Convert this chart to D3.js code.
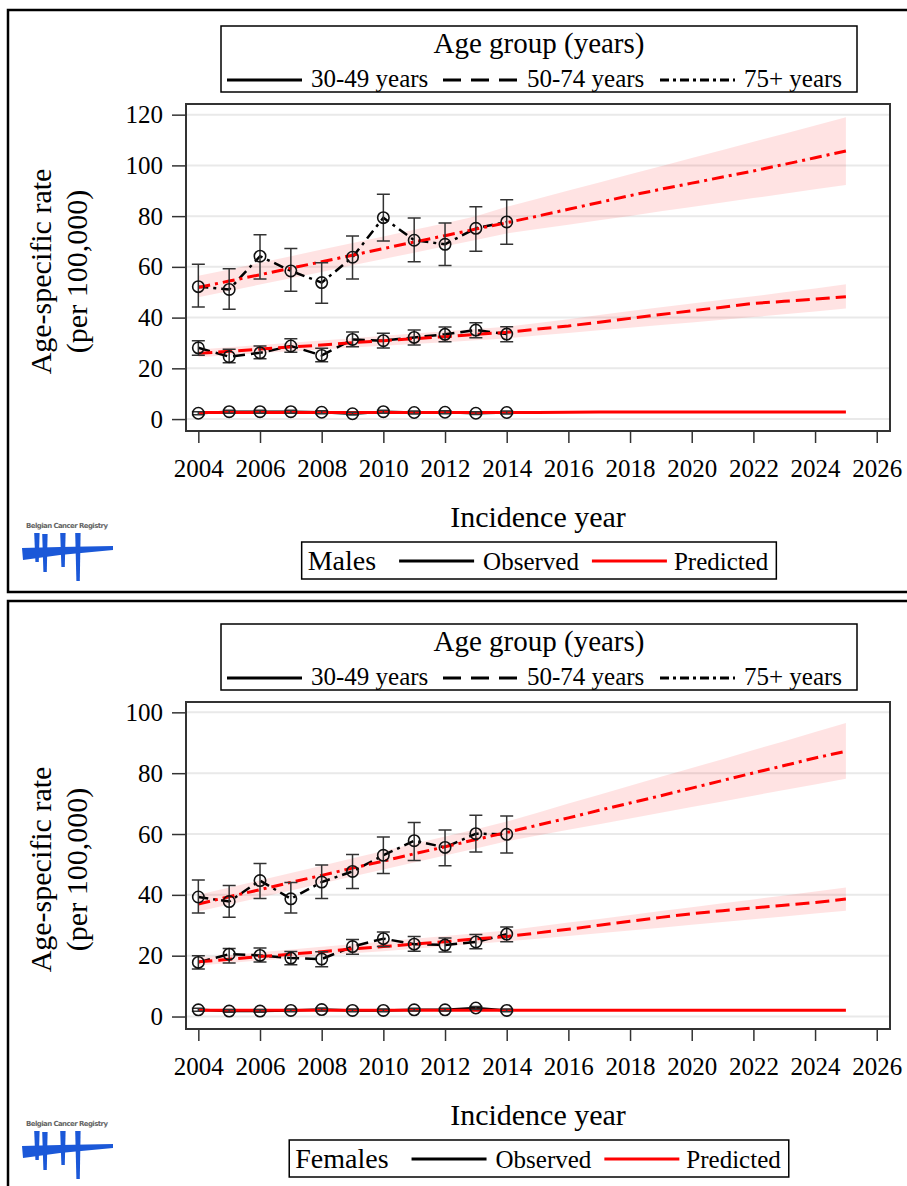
<!DOCTYPE html>
<html>
<head>
<meta charset="utf-8">
<script src="https://cdn.jsdelivr.net/npm/d3@7/dist/d3.min.js"></script>
<style>
  body { margin: 0; background: #fff; }
  svg { display: block; }
  text { font-family: "Liberation Serif", "Times New Roman", serif; fill: #000; }
</style>
</head>
<body>
<svg id="chart"></svg>
<script>
// observed years and projection years
const obsYears = [2004, 2005, 2006, 2007, 2008, 2009, 2010, 2011, 2012, 2013, 2014];
const predYears = [2004, 2005, 2006, 2007, 2008, 2009, 2010, 2011, 2012, 2013, 2014,
  2015, 2016, 2017, 2018, 2019, 2020, 2021, 2022, 2023, 2024, 2025];
const xTicks = [2004, 2006, 2008, 2010, 2012, 2014, 2016, 2018, 2020, 2022, 2024, 2026];
const maleYTicks = [0, 20, 40, 60, 80, 100, 120];
const femaleYTicks = [0, 20, 40, 60, 80, 100];
const ageGroups = ["30-49 years", "50-74 years", "75+ years"];

// Males
const m30Obs = [2.3, 2.9, 2.9, 2.9, 2.7, 2.1, 2.9, 2.6, 2.7, 2.3, 2.6];
const m30Lo = [1.7, 2.3, 2.3, 2.3, 2.1, 1.6, 2.3, 2.0, 2.1, 1.8, 2.0];
const m30Hi = [2.9, 3.5, 3.5, 3.5, 3.3, 2.7, 3.5, 3.2, 3.3, 2.9, 3.2];
const m30Pred = [2.6, 2.6, 2.6, 2.6, 2.6, 2.6, 2.6, 2.6, 2.6, 2.6, 2.6, 2.6, 2.7, 2.8, 2.8, 2.8, 2.8, 2.8, 2.8, 2.8, 2.8, 2.8];
const m30BandLo = [2.3, 2.3, 2.3, 2.3, 2.3, 2.3, 2.3, 2.3, 2.3, 2.3, 2.3, 2.3, 2.4, 2.4, 2.4, 2.4, 2.4, 2.4, 2.4, 2.4, 2.4, 2.4];
const m30BandHi = [2.9, 2.9, 2.9, 2.9, 2.9, 2.9, 2.9, 2.9, 2.9, 2.9, 2.9, 2.9, 3.0, 3.1, 3.1, 3.2, 3.2, 3.2, 3.2, 3.2, 3.2, 3.2];

const m50Obs = [28.1, 24.6, 26.1, 28.8, 25.1, 31.4, 30.9, 32.2, 33.4, 35.1, 33.5];
const m50Lo = [25.2, 22.2, 23.8, 26.3, 22.6, 28.5, 28.0, 29.2, 30.5, 32.1, 30.5];
const m50Hi = [30.9, 27.5, 28.8, 31.7, 27.9, 34.3, 33.8, 35.1, 36.3, 38.0, 36.4];
const m50Pred = [25.9, 26.7, 27.6, 28.4, 29.2, 30.1, 30.9, 31.7, 32.5, 33.4, 34.2, 35.5, 36.7, 38.2, 39.7, 41.2, 42.7, 44.1, 45.6, 46.4, 47.3, 48.2];
const m50BandLo = [24.4, 25.2, 26.0, 26.7, 27.4, 28.2, 28.9, 29.6, 30.3, 31.1, 31.8, 32.9, 33.9, 35.0, 36.0, 37.1, 38.1, 39.2, 40.2, 41.3, 42.4, 43.6];
const m50BandHi = [27.4, 28.3, 29.2, 30.1, 31.0, 31.9, 32.8, 33.7, 34.6, 35.5, 36.4, 37.9, 39.4, 41.0, 42.6, 44.1, 45.6, 47.0, 48.4, 50.0, 51.5, 53.1];

const m75Obs = [52.2, 51.1, 64.2, 58.4, 53.8, 63.8, 79.4, 70.5, 68.9, 75.2, 77.7];
const m75Lo = [44.2, 43.3, 55.2, 50.4, 45.7, 55.2, 70.2, 62.0, 60.5, 66.2, 68.9];
const m75Hi = [61.0, 59.3, 72.7, 67.2, 61.6, 72.2, 88.6, 79.3, 77.3, 83.7, 86.5];
const m75Pred = [51.9, 54.4, 56.9, 59.5, 62.0, 64.6, 67.2, 69.8, 72.3, 74.9, 77.4, 80.0, 82.7, 85.4, 88.1, 90.6, 93.0, 95.4, 97.8, 100.4, 103.0, 105.7];
const m75BandLo = [48.0, 50.5, 53.0, 55.5, 58.0, 60.6, 63.1, 65.6, 68.1, 70.6, 73.2, 74.9, 76.6, 78.4, 80.1, 81.9, 83.6, 85.4, 87.1, 88.8, 90.6, 92.3];
const m75BandHi = [56.5, 59.0, 61.6, 64.2, 66.8, 69.4, 72.0, 74.6, 77.2, 80.0, 83.7, 86.9, 90.1, 93.3, 96.5, 99.7, 102.9, 106.1, 109.3, 112.5, 115.7, 119.0];

// Females
const f30Obs = [2.2, 1.8, 1.8, 2.0, 2.3, 2.0, 2.0, 2.2, 2.2, 2.8, 2.0];
const f30Lo = [1.7, 1.4, 1.4, 1.6, 1.8, 1.6, 1.6, 1.8, 1.8, 2.3, 1.6];
const f30Hi = [2.7, 2.3, 2.3, 2.5, 2.8, 2.5, 2.5, 2.7, 2.7, 3.3, 2.5];
const f30Pred = [2.1, 2.1, 2.1, 2.1, 2.1, 2.1, 2.1, 2.1, 2.1, 2.1, 2.1, 2.1, 2.1, 2.1, 2.1, 2.1, 2.1, 2.1, 2.1, 2.1, 2.1, 2.1];
const f30BandLo = [1.9, 1.9, 1.9, 1.9, 1.9, 1.9, 1.9, 1.9, 1.9, 1.9, 1.9, 1.9, 1.9, 1.9, 1.9, 1.9, 1.9, 1.9, 1.9, 1.9, 1.9, 1.9];
const f30BandHi = [2.3, 2.3, 2.3, 2.3, 2.3, 2.3, 2.3, 2.3, 2.3, 2.3, 2.3, 2.3, 2.3, 2.4, 2.4, 2.4, 2.4, 2.4, 2.4, 2.4, 2.4, 2.4];

const f50Obs = [17.8, 20.5, 20.1, 19.2, 18.9, 23.0, 25.6, 23.8, 23.5, 24.5, 27.1];
const f50Lo = [15.6, 17.6, 17.9, 17.0, 16.4, 20.5, 23.0, 21.5, 21.2, 22.3, 24.6];
const f50Hi = [20.0, 22.4, 22.5, 21.4, 21.3, 25.3, 27.8, 26.3, 25.8, 27.0, 29.4];
const f50Pred = [18.0, 18.8, 19.7, 20.5, 21.3, 22.2, 23.0, 23.8, 24.6, 25.5, 26.3, 27.5, 28.7, 30.0, 31.3, 32.6, 33.8, 34.8, 35.7, 36.6, 37.5, 38.6];
const f50BandLo = [16.8, 17.6, 18.4, 19.2, 20.0, 20.8, 21.5, 22.3, 23.1, 23.9, 24.7, 25.6, 26.5, 27.4, 28.3, 29.2, 30.2, 31.1, 32.0, 32.9, 33.9, 34.8];
const f50BandHi = [19.3, 20.2, 21.1, 22.0, 22.9, 23.8, 24.7, 25.6, 26.5, 27.4, 28.3, 29.6, 30.9, 32.1, 33.4, 34.7, 35.9, 37.2, 38.5, 39.8, 41.1, 42.4];

const f75Obs = [39.3, 37.8, 44.7, 38.7, 44.2, 47.7, 53.0, 57.8, 55.6, 60.1, 59.9];
const f75Lo = [34.0, 32.6, 38.8, 34.0, 38.8, 42.1, 47.0, 51.3, 49.6, 54.1, 53.8];
const f75Hi = [44.9, 43.1, 50.3, 44.1, 49.8, 53.3, 59.0, 63.8, 61.3, 66.2, 65.9];
const f75Pred = [37.0, 39.4, 41.7, 44.1, 46.4, 48.8, 51.1, 53.5, 55.8, 58.2, 60.5, 62.9, 65.3, 67.8, 70.2, 72.6, 75.1, 77.6, 80.1, 82.5, 85.0, 87.2];
const f75BandLo = [34.5, 36.8, 39.1, 41.4, 43.7, 46.0, 48.3, 50.6, 52.9, 55.2, 57.6, 59.5, 61.4, 63.2, 65.1, 67.0, 68.9, 70.7, 72.6, 74.5, 76.3, 78.2];
const f75BandHi = [40.0, 42.4, 44.8, 47.2, 49.6, 52.0, 54.4, 56.8, 59.2, 61.6, 64.1, 67.0, 70.0, 72.9, 75.9, 78.8, 81.7, 84.6, 87.6, 90.5, 93.5, 96.5];

const width = 907, height = 1186;
const svg = d3.select("#chart").attr("width", width).attr("height", height);

// line patterns per age group: observed (black) and predicted (red)
const obsDash = [null, "12,6", "10,5,3,5"];
const predDash = [null, "14,6", "12,5,3,5"];
const legendDash = [null, "18,10", "9,4,3,4"];

const panels = [
  {
    off: 0, sex: "Males", yDomain: [-4.7, 124.2], yTicks: maleYTicks,
    groups: [
      {obs: m30Obs, lo: m30Lo, hi: m30Hi, pred: m30Pred, bLo: m30BandLo, bHi: m30BandHi},
      {obs: m50Obs, lo: m50Lo, hi: m50Hi, pred: m50Pred, bLo: m50BandLo, bHi: m50BandHi},
      {obs: m75Obs, lo: m75Lo, hi: m75Hi, pred: m75Pred, bLo: m75BandLo, bHi: m75BandHi}
    ]
  },
  {
    off: 598, sex: "Females", yDomain: [-4.1, 103.4], yTicks: femaleYTicks,
    groups: [
      {obs: f30Obs, lo: f30Lo, hi: f30Hi, pred: f30Pred, bLo: f30BandLo, bHi: f30BandHi},
      {obs: f50Obs, lo: f50Lo, hi: f50Hi, pred: f50Pred, bLo: f50BandLo, bHi: f50BandHi},
      {obs: f75Obs, lo: f75Lo, hi: f75Hi, pred: f75Pred, bLo: f75BandLo, bHi: f75BandHi}
    ]
  }
];

const plotLeft = 186, plotRight = 890, plotTop = 104, plotBottom = 431;
const centerX = 538;

// Belgian Cancer Registry logo (y0 = centre of the small caption)
function drawLogo(g, y0) {
  g.append("text")
    .attr("x", 26).attr("y", y0 + 2.5)
    .attr("textLength", 82)
    .style("font-family", "'DejaVu Sans', sans-serif")
    .style("font-size", "7px")
    .style("font-weight", "bold")
    .style("fill", "#666")
    .text("Belgian Cancer Registry");
  const blue = "#1b58d8";
  // vertical strokes
  [[37, 8, 37], [45, 9, 47], [63, 8, 42], [78, 8, 56]].forEach(([x, t, b]) => {
    g.append("path")
      .attr("d", `M${x - 2.8},${y0 + t} L${x + 2.6},${y0 + t} L${x + 1.8},${y0 + b} L${x - 1.6},${y0 + b} Z`)
      .attr("fill", blue);
  });
  // horizontal stroke
  g.append("path")
    .attr("d", `M22,${y0 + 23} L60,${y0 + 22} L113,${y0 + 21} L113,${y0 + 25} L60,${y0 + 30} L23,${y0 + 35} Z`)
    .attr("fill", blue);
}

panels.forEach(p => {
  const g = svg.append("g").attr("transform", `translate(0,${p.off})`);

  // panel frame
  g.append("rect")
    .attr("x", 8).attr("y", p.off === 0 ? 10 : 3)
    .attr("width", 940)
    .attr("height", p.off === 0 ? 582 : 700)
    .attr("fill", "none")
    .attr("stroke", "#000")
    .attr("stroke-width", 2.5);

  const x = d3.scaleLinear().domain([2003.6, 2026.43]).range([plotLeft, plotRight]);
  const y = d3.scaleLinear().domain(p.yDomain).range([plotBottom, plotTop]);

  // grid
  g.append("g")
    .selectAll("line")
    .data(p.yTicks)
    .join("line")
    .attr("x1", plotLeft).attr("x2", plotRight)
    .attr("y1", d => y(d)).attr("y2", d => y(d))
    .attr("stroke", "#e9e9e9")
    .attr("stroke-width", 2);

  // prediction bands
  const area = d3.area()
    .x((d, i) => x(predYears[i]))
    .y0(d => y(d[0]))
    .y1(d => y(d[1]));
  p.groups.forEach(gr => {
    g.append("path")
      .datum(gr.bLo.map((v, i) => [v, gr.bHi[i]]))
      .attr("fill", "rgba(255,0,0,0.11)")
      .attr("d", area);
  });

  const line = d3.line().x(d => x(d[0])).y(d => y(d[1]));

  // observed lines
  p.groups.forEach((gr, k) => {
    g.append("path")
      .datum(obsYears.map((yr, i) => [yr, gr.obs[i]]))
      .attr("fill", "none")
      .attr("stroke", "#000")
      .attr("stroke-width", 2.5)
      .attr("stroke-dasharray", obsDash[k])
      .attr("d", line);
  });

  // predicted lines
  p.groups.forEach((gr, k) => {
    g.append("path")
      .datum(predYears.map((yr, i) => [yr, gr.pred[i]]))
      .attr("fill", "none")
      .attr("stroke", "#ff0000")
      .attr("stroke-width", 3)
      .attr("stroke-dasharray", predDash[k])
      .attr("d", line);
  });

  // error bars + markers
  p.groups.forEach(gr => {
    const eb = g.append("g").attr("stroke", "#333").attr("stroke-width", 1.5).attr("fill", "none");
    obsYears.forEach((yr, i) => {
      const cx = x(yr);
      eb.append("path")
        .attr("d", `M${cx - 6.5},${y(gr.hi[i])}H${cx + 6.5}M${cx},${y(gr.hi[i])}V${y(gr.lo[i])}M${cx - 6.5},${y(gr.lo[i])}H${cx + 6.5}`);
    });
    g.append("g")
      .selectAll("circle")
      .data(gr.obs)
      .join("circle")
      .attr("cx", (d, i) => x(obsYears[i]))
      .attr("cy", d => y(d))
      .attr("r", 5.7)
      .attr("fill", "none")
      .attr("stroke", "#111")
      .attr("stroke-width", 1.6);
  });

  // frame
  g.append("rect")
    .attr("x", plotLeft).attr("y", plotTop)
    .attr("width", plotRight - plotLeft).attr("height", plotBottom - plotTop)
    .attr("fill", "none")
    .attr("stroke", "#333")
    .attr("stroke-width", 2);

  // axes
  const xAxis = g.append("g")
    .attr("transform", `translate(0,${plotBottom + 1})`)
    .call(d3.axisBottom(x).tickValues(xTicks).tickFormat(d3.format("d")).tickSize(11).tickPadding(16));
  const yAxis = g.append("g")
    .attr("transform", `translate(${plotLeft - 1},0)`)
    .call(d3.axisLeft(y).tickValues(p.yTicks).tickSize(13).tickPadding(9));
  [xAxis, yAxis].forEach(a => {
    a.select(".domain").remove();
    a.selectAll(".tick line").attr("stroke", "#333").attr("stroke-width", 1.5);
    a.selectAll("text")
      .style("font-family", "'Liberation Serif', serif")
      .style("font-size", "25px")
      .attr("fill", "#000");
  });

  // axis titles
  g.append("text")
    .attr("transform", `translate(51,${(plotTop + plotBottom) / 2 + 4}) rotate(-90)`)
    .attr("text-anchor", "middle")
    .style("font-size", "30px")
    .text("Age-specific rate");
  g.append("text")
    .attr("transform", `translate(87,${(plotTop + plotBottom) / 2 + 4}) rotate(-90)`)
    .attr("text-anchor", "middle")
    .style("font-size", "30px")
    .text("(per 100,000)");
  g.append("text")
    .attr("x", centerX).attr("y", 527)
    .attr("text-anchor", "middle")
    .style("font-size", "30px")
    .text("Incidence year");

  // age group legend
  const lg = g.append("g");
  lg.append("rect")
    .attr("x", 221).attr("y", 26).attr("width", 636).attr("height", 66)
    .attr("fill", "#fff").attr("stroke", "#000").attr("stroke-width", 1.5);
  lg.append("text")
    .attr("x", 539).attr("y", 53)
    .attr("text-anchor", "middle")
    .style("font-size", "29px")
    .text("Age group (years)");
  const entryX = [227, 443, 660];
  ageGroups.forEach((name, k) => {
    lg.append("line")
      .attr("x1", entryX[k]).attr("x2", entryX[k] + 75)
      .attr("y1", 80).attr("y2", 80)
      .attr("stroke", "#000").attr("stroke-width", 3)
      .attr("stroke-dasharray", legendDash[k]);
    lg.append("text")
      .attr("x", entryX[k] + 84).attr("y", 87)
      .style("font-size", "25px")
      .text(name);
  });

  // observed / predicted legend
  const bg = g.append("g");
  const box = bg.append("rect")
    .attr("y", 542).attr("height", 37)
    .attr("fill", "#fff").attr("stroke", "#000").attr("stroke-width", 1.5);
  const items = [];
  let cx = 0;
  const sexText = bg.append("text").attr("y", 570).style("font-size", "28px").text(p.sex);
  items.push([sexText, cx]); cx += sexText.node().getComputedTextLength() + 23;
  const l1 = bg.append("line").attr("stroke", "#000").attr("stroke-width", 3);
  items.push([l1, cx]); cx += 75 + 9;
  const t1 = bg.append("text").attr("y", 570).style("font-size", "25px").text("Observed");
  items.push([t1, cx]); cx += t1.node().getComputedTextLength() + 13;
  const l2 = bg.append("line").attr("stroke", "#ff0000").attr("stroke-width", 3);
  items.push([l2, cx]); cx += 75 + 7;
  const t2 = bg.append("text").attr("y", 570).style("font-size", "25px").text("Predicted");
  items.push([t2, cx]); cx += t2.node().getComputedTextLength();
  const start = centerX - cx / 2;
  items.forEach(([el, off]) => {
    if (el.node().tagName === "line") {
      el.attr("x1", start + off).attr("x2", start + off + 75).attr("y1", 561).attr("y2", 561);
    } else {
      el.attr("x", start + off);
    }
  });
  box.attr("x", start - 6).attr("width", cx + 14);

  drawLogo(g, 525);
});
</script>
</body>
</html>
